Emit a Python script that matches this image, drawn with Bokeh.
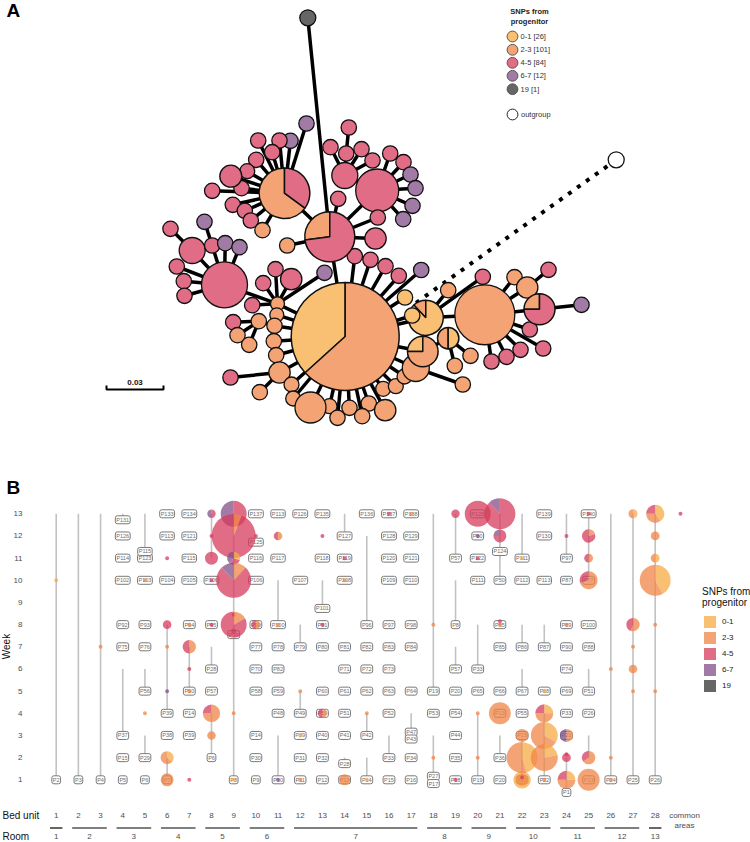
import math
from bokeh.plotting import figure
from bokeh.layouts import column
from bokeh.models import Legend, LegendItem, LinearAxis, FixedTicker, Range1d
from bokeh.core.properties import value
from bokeh.embed import file_html
from bokeh.resources import INLINE

FONT = "Liberation Sans"
series_labels = ["0-1", "2-3", "4-5", "6-7", "19"]
series_counts = [26, 101, 84, 12, 1]
solid = ["#F9C074", "#F4A474", "#E06C85", "#A17BA6", "#666666"]
base = ["#F7AB46", "#F08646", "#D63B5C", "#824F88", "#333333"]

# ---------- panel A: haplotype network ----------
node_x = [344.7, 284, 329.3, 425.3, 422.3, 447.7, 539, 484.3,
          307.3, 306, 290, 279, 257.7, 271.7, 255.7, 246.7, 241, 230.3, 211.7, 232.3, 244.3, 250.3, 262,
          286.7, 337.7, 376.7, 344.3, 330, 345.7, 348.3, 361, 372, 389.7, 403, 410, 415, 412, 402.7, 377.3, 375,
          354.3, 370, 385, 398.3, 420.7,
          277, 275, 290.7, 262.7, 324, 251.7, 224, 191.7, 170, 211.7, 204, 224.7, 239, 176.3, 183.3, 184,
          276.3, 274, 258.3, 232.7, 237, 248.7, 273.3, 275.7, 279, 230, 259.3, 291, 292.7, 329, 310,
          349, 368.3, 337, 361.7, 384.7, 382.7, 395.3, 404, 415.3, 462.3,
          470, 454.3, 447.7, 482.3, 514, 526.7, 548, 581, 529.3, 542.7, 520, 506, 491,
          404.5, 411.7]
node_y = [336, 192.7, 236.3, 317.3, 351, 337.7, 308.7, 314.3,
          17.3, 123, 140.3, 140, 140, 151.7, 159.3, 170.7, 187.7, 175.7, 190.3, 204.3, 210.3, 220, 229.7,
          245, 198.3, 190, 175, 146.7, 153, 127, 148.7, 160, 153, 161.7, 174, 187.7, 205.3, 218.7, 217, 238,
          255.7, 259.3, 265.7, 275.3, 269.5,
          303.3, 268.7, 278.7, 282.7, 272.3, 304.7, 284.3, 250, 228.3, 245, 221.3, 242.7, 246.7, 266, 280.7, 295.3,
          314.3, 325.3, 320.7, 321.7, 334.7, 344.3, 340.7, 354.7, 372, 377, 391.7, 384, 398, 405.7, 407,
          407.3, 403, 417.3, 415.7, 409.7, 388.3, 385.7, 376, 367.5, 384,
          355.3, 365.3, 289.7, 276.3, 276.7, 287, 269.3, 304.3, 329, 348, 349.3, 356.3, 361,
          297, 315]
node_r = [54, 25.3, 25, 17.5, 15.3, 10.7, 15.5, 30,
          8, 7.7, 7.7, 7.7, 7.7, 7.7, 7.7, 7.5, 7.7, 11, 7.7, 7.7, 7.7, 7.7, 7.7,
          7.7, 7.7, 21.5, 13, 7.7, 7.7, 7.7, 7.7, 7.7, 7.7, 7.7, 7.7, 7.7, 7.7, 7.7, 7.7, 10.7,
          7.7, 7.7, 7.7, 7.7, 7.7,
          7, 7.7, 10.7, 7.7, 7.7, 7.7, 23, 13, 7.7, 7.7, 7.7, 7.7, 7.7, 7.7, 7.7, 7.7,
          7, 7.7, 7.7, 7.7, 7.7, 7.7, 7.7, 7.7, 10.7, 7.7, 7.7, 7.5, 7.5, 7.5, 15.5,
          7.7, 7.7, 7.7, 7.7, 10.7, 7.5, 7.5, 7.5, 13.5, 7.7,
          7.7, 7.7, 7.7, 7.7, 7.7, 10.7, 7.7, 7.7, 7.7, 7.7, 7.7, 7.7, 7.7,
          7.7, 7.7]
node_cat = [1, 1, 1, 0, 1, 1, 2, 1,
            4, 3, 3, 2, 2, 2, 2, 2, 2, 2, 2, 2, 2, 2, 1,
            1, 2, 2, 2, 2, 2, 2, 2, 2, 2, 2, 3, 3, 3, 3, 2, 2,
            2, 2, 2, 2, 3,
            1, 2, 2, 2, 3, 2, 2, 2, 2, 2, 3, 3, 3, 2, 2, 2,
            1, 1, 1, 2, 1, 1, 1, 1, 1, 2, 1, 1, 1, 1, 1,
            1, 1, 1, 1, 1, 1, 1, 1, 1, 1,
            1, 1, 1, 2, 1, 1, 2, 3, 2, 2, 2, 2, 2,
            0, 0]
node_parent = [0, 2, 0, 0, 0, 4, 7, 3,
               2, 1, 1, 1, 1, 1, 1, 1, 1, 1, 1, 1, 1, 1, 1,
               2, 2, 2, 25, 26, 26, 28, 26, 26, 25, 25, 25, 25, 25, 25, 2, 2,
               0, 0, 0, 0, 0,
               0, 45, 45, 45, 45, 45, 45, 51, 52, 51, 54, 51, 51, 51, 51, 51,
               0, 0, 62, 63, 63, 63, 0, 0, 0, 69, 69, 0, 0, 0, 0,
               0, 0, 0, 0, 0, 0, 0, 0, 0, 84,
               5, 5, 3, 3, 7, 7, 91, 6, 7, 7, 7, 7, 7,
               0, 0]
pie_count = 7
top_from = 99
pie_first_cat = [0, 1, 1, 1, 0, 1, 1]
pie_first_share = [0.367, 0.65, 0.27, 0.12, 0.25, 0.5, 0.25]
pie_second_cat = [1, 2, 2, 0, 1, 0, 2]
outgroup_x, outgroup_y = 615.7, 159.3
outgroup_end_x, outgroup_end_y = 414, 303.5

pA = figure(width=750, height=470, x_range=Range1d(26, 750), y_range=Range1d(470, 0),
            output_backend="svg", toolbar_location=None, min_border=0, min_border_left=26,
            outline_line_color=None)
pA.axis.visible = False
pA.grid.visible = False

kids = list(range(1, len(node_x)))
pA.segment(x0=[node_x[i] for i in kids], y0=[node_y[i] for i in kids],
           x1=[node_x[node_parent[i]] for i in kids], y1=[node_y[node_parent[i]] for i in kids],
           line_color="black", line_width=3.5)
pA.line(x=[outgroup_x, outgroup_end_x], y=[outgroup_y, outgroup_end_y], line_color="black",
        line_width=4, line_dash="4 7")


def circles(p, idx):
    p.circle(x=[node_x[i] for i in idx], y=[node_y[i] for i in idx], radius=[node_r[i] for i in idx],
             fill_color=[solid[node_cat[i]] for i in idx], line_color="#111111", line_width=1.3)


circles(pA, list(range(pie_count, top_from)))
wx, wy, wr, ws, we, wc = [], [], [], [], [], []
for i in range(pie_count):
    mid = math.pi / 2 + 2 * math.pi * pie_first_share[i]
    wx += [node_x[i]] * 2
    wy += [node_y[i]] * 2
    wr += [node_r[i]] * 2
    ws += [math.pi / 2, mid]
    we += [mid, math.pi / 2 + 2 * math.pi]
    wc += [solid[pie_first_cat[i]], solid[pie_second_cat[i]]]
pA.wedge(x=wx, y=wy, radius=wr, start_angle=ws, end_angle=we, fill_color=wc,
         line_color="#111111", line_width=1.5)
circles(pA, list(range(top_from, len(node_x))))
pA.circle(x=[outgroup_x], y=[outgroup_y], radius=8, fill_color="white", line_color="#111111", line_width=1.3)

# scale bar
scale_x = [106, 106, 163, 163]
scale_y = [385, 389, 389, 385]
pA.line(x=scale_x, y=scale_y, line_color="black", line_width=2)
pA.text(x=[134.5], y=[382], text=["0.03"], text_font=value(FONT), text_font_style="bold",
        text_font_size="8px", text_align="center", text_baseline="middle", text_color="#111111")
pA.text(x=[6], y=[10], text=["A"], text_font=value(FONT), text_font_style="bold", text_font_size="19px",
        text_align="left", text_baseline="middle", text_color="black", level="overlay")

# legend of panel A
leg_y = [36, 49.3, 62.3, 75.3, 88.7]
leg_texts = [f"{s} [{c}]" for s, c in zip(series_labels, series_counts)]
pA.circle(x=[512] * 5, y=leg_y, radius=5.4, fill_color=solid, line_color="#555555", line_width=1)
pA.text(x=[520] * 5, y=leg_y, text=leg_texts, text_font=value(FONT), text_font_size="7.5px",
        text_baseline="middle", text_color="#333333")
pA.circle(x=[512], y=[114], radius=5.4, fill_color="white", line_color="#222222", line_width=1)
pA.text(x=[520.5], y=[113.5], text=["outgroup"], text_font=value(FONT), text_font_size="7.5px",
        text_baseline="middle", text_color="#333333")
pA.text(x=[529, 529], y=[11, 20.5], text=["SNPs from", "progenitor"], text_font=value(FONT),
        text_font_style="bold", text_font_size="7.5px", text_align="center", text_baseline="middle",
        text_color="#222222")

# ---------- panel B: patients over time ----------
bed_ticks = list(range(1, 29))
week_ticks = list(range(1, 14))
room_centers = [1, 2.5, 4.5, 6.5, 8.5, 10.5, 14.5, 18.5, 20.5, 22.5, 24.5, 26.5, 28]
room_names = [str(i) for i in range(1, 14)]
room_first = [1, 2, 4, 6, 8, 10, 12, 18, 20, 22, 24, 26, 28]
room_last = [1, 3, 5, 7, 9, 11, 17, 19, 21, 23, 25, 27, 28]

line_bed = [1, 2, 3, 4, 4, 5, 5, 5, 6, 6, 7, 8, 8, 8, 9, 11, 11, 12, 12, 13, 14, 14, 15, 15, 15, 16, 17,
            18, 18, 19, 19, 19, 20, 20, 21, 21, 21, 22, 22, 22, 22, 23, 23, 24, 24, 25, 25, 25, 26, 27, 28]
line_from = [1, 1, 1, 3, 12.73, 11.3, 5, 2, 1, 4, 5, 11, 6, 2, 1, 8, 1, 7, 4, 8.73, 12, 1.73, 8, 3, 1, 2, 3.15,
             5, 1, 11, 8, 6, 6, 1, 2, 10, 11, 11, 7, 5, 1, 7, 1, 11, 0.43, 10, 5, 2, 1, 1, 1]
line_to = [13, 13, 13, 6, 13, 13, 6, 3, 2, 8, 7, 13, 7, 4, 13, 10, 3, 8, 5, 10, 13, 2, 12, 4, 2, 3, 4,
           13, 3, 13, 10, 7, 8, 4, 3, 11.3, 13, 13, 8, 6, 3, 8, 4, 13, 2, 13, 6, 3, 13, 13, 13]

label_bed = [4, 6, 7, 10, 11, 12, 13, 15, 16, 17, 20, 23, 25,
             4, 6, 7, 10, 14, 16, 17, 20, 23,
             4, 5, 5, 7, 10, 11, 13, 14, 16, 17, 19, 20, 21, 22, 24,
             4, 5, 6, 7, 8, 10, 12, 14, 16, 17, 20, 21, 22, 23, 24, 25,
             13,
             4, 5, 7, 8, 9, 10, 11, 13, 15, 16, 17, 19, 21, 24, 25,
             4, 5, 10, 11, 12, 13, 14, 15, 16, 17, 21, 22, 23, 24, 25,
             8, 10, 11, 14, 15, 16, 19, 20, 24,
             5, 7, 8, 10, 11, 13, 14, 15, 16, 17, 18, 19, 20, 21, 22, 23, 24, 25,
             6, 7, 11, 12, 13, 14, 16, 18, 19, 21, 22, 24, 25,
             4, 6, 7, 10, 12, 13, 14, 15, 17, 17, 19, 22, 24,
             4, 5, 8, 10, 12, 13, 14, 16, 17, 19, 21,
             1, 2, 3, 4, 5, 6, 9, 10, 11, 12, 13, 14, 15, 16, 17, 18, 18, 19, 20, 21, 22, 23, 24, 25, 26, 27, 28]
label_week = [12.73, 13, 13, 13, 13, 13, 13, 13, 13, 13, 13, 13, 13,
              12, 12, 12, 11.72, 12, 12, 12, 12, 12,
              11, 11, 11.3, 11, 11, 11, 11, 11, 11, 11, 11, 11, 11.3, 11, 11,
              10, 10, 10, 10, 10, 10, 10, 10, 10, 10, 10, 10, 10, 10, 10, 10,
              8.73,
              8, 8, 8, 8, 7.55, 8, 8, 8, 8, 8, 8, 8, 8, 8, 8,
              7, 7, 7, 7, 7, 7, 7, 7, 7, 7, 7, 7, 7, 7, 7,
              6, 6, 6, 6, 6, 6, 6, 6, 6,
              5, 5, 5, 5, 5, 5, 5, 5, 5, 5, 5, 5, 5, 5, 5, 5, 5, 5,
              4, 4, 4, 4, 4, 4, 4, 4, 4, 4, 4, 4, 4,
              3, 3, 3, 3, 3, 3, 3, 3, 3.15, 2.84, 3, 3, 3,
              2, 2, 2, 2, 2, 2, 1.73, 2, 2, 2, 2,
              1, 1, 1, 1, 1, 1, 1, 1, 1, 1, 1, 1, 1, 1, 1, 1.16, 0.83, 1, 1, 1, 1, 1, 0.43, 1, 1, 1, 1]
label_text = ["P131", "P133", "P134", "P137", "P113", "P126", "P135", "P136", "P137", "P138", "P128", "P139", "P140",
              "P126", "P113", "P121", "P125", "P127", "P128", "P129", "P60", "P130",
              "P114", "P123", "P115", "P115", "P116", "P117", "P118", "P119", "P120", "P121", "P57", "P122", "P124", "P111", "P97",
              "P102", "P103", "P104", "P105", "P106", "P106", "P107", "P108", "P109", "P110", "P111", "P50", "P112", "P113", "P87", "P77",
              "P101",
              "P92", "P93", "P94", "P95", "P99", "P99", "P100", "P91", "P96", "P97", "P98", "P8", "P85", "P89", "P100",
              "P75", "P76", "P77", "P78", "P79", "P80", "P81", "P82", "P83", "P84", "P85", "P86", "P87", "P90", "P88",
              "P28", "P70", "P82", "P71", "P72", "P73", "P57", "P33", "P74",
              "P56", "P50", "P57", "P58", "P59", "P60", "P61", "P62", "P63", "P64", "P19", "P20", "P65", "P66", "P67", "P68", "P69", "P51",
              "P39", "P14", "P48", "P49", "P50", "P51", "P52", "P53", "P54", "P13", "P55", "P33", "P26",
              "P37", "P38", "P39", "P14", "P39", "P40", "P41", "P42", "P47", "P43", "P44", "P15", "P21",
              "P15", "P29", "P6", "P30", "P31", "P32", "P28", "P33", "P34", "P35", "P36",
              "P2", "P3", "P4", "P5", "P6", "P7", "P8", "P9", "P10", "P11", "P12", "P13", "P14", "P15", "P16", "P27", "P17",
              "P18", "P19", "P20", "P21", "P22", "P1", "P23", "P24", "P25", "P26"]

dot_bed = [1, 3, 5, 6, 6, 6, 7, 7, 6, 8, 8, 7, 8, 8, 9, 9, 10, 9, 8, 6, 7, 5, 9, 13, 14, 14, 16, 17, 18, 19, 20, 20,
           20, 11, 13, 12, 12, 11, 12, 14, 15, 15, 18, 19, 20, 20, 21, 21, 21, 25, 24, 22, 24, 28, 27, 27, 26, 27,
           28, 28, 29.14, 26, 26, 23, 23, 22, 25, 24, 24, 22, 22, 22]
dot_week = [10, 7, 10, 11, 8, 7, 6, 5, 5, 10, 8, 8, 12, 11, 8.45, 7.7, 12, 4, 3, 1, 1, 4, 1, 12, 11, 10, 13, 13, 8,
            13, 13, 12, 11, 8, 8, 5, 3, 1, 1, 1, 1, 4, 2, 1, 4, 2, 4, 8.15, 8, 13, 12, 11, 8, 12, 7, 6, 6, 5, 5, 8,
            13, 2, 1, 1, 5, 3, 1, 2, 2.15, 1, 1, 1.1]
dot_size = [2, 2, 2, 2, 4.3, 2, 2, 2, 2, 2, 2, 2, 2, 6.5, 2, 2.5, 2, 2, 4.3, 6.5, 2, 2, 2, 2, 2, 2, 2, 2, 2, 4.2,
            13, 2, 2, 2, 2, 2, 2, 2, 2, 5.5, 2, 2, 2, 2, 2, 2, 11, 2, 2, 2, 2, 2, 2, 4.4, 2, 4.3, 2, 2, 2, 2, 2,
            2, 2, 2, 2, 6.5, 11, 4.4, 2, 8.7, 6, 2]
dot_cat = [0, 1, 1, 2, 2, 1, 2, 1, 3, 2, 2, 1, 2, 2, 2, 2, 2, 1, 1, 1, 2, 1, 0, 2, 2, 1, 2, 1, 1, 2, 2, 3, 2, 1, 2,
           1, 0, 3, 1, 1, 0, 1, 1, 2, 1, 1, 1, 2, 1, 2, 2, 0, 1, 1, 1, 1, 1, 1, 1, 1, 2, 1, 1, 1, 0, 1, 1, 2, 2, 0,
           1, 2]

mix_bed = [7, 8, 9, 9, 9, 9, 9, 8, 6, 10, 11, 13, 21, 21, 25, 25, 25, 27, 28, 28, 28, 27, 22, 23, 23, 23, 24, 24, 25]
mix_week = [7, 13, 13, 12, 11, 10, 8, 4, 2, 8, 12, 4, 13, 12, 12, 11, 10, 13, 13, 11, 10, 8, 2, 4, 3, 2, 3, 1, 2]
mix_size = [6.7, 4.2, 13, 22, 6.5, 17.5, 13, 8.7, 6.5, 4.5, 4.3, 4.5, 15.5, 6.5, 6.7, 4.4, 9, 4.5, 9, 4.4, 15.5,
            6.7, 15.5, 9, 13.5, 13.5, 6.5, 9, 6.7]
mix_share0 = [0, 0, 0, 0, .3, 0, 0, 0, .35, 0, 0, 0, 0, 0, 0, 0, 0, .5, .4, .5, .42, 0, .45, .25, .33, .22, 0, .25, 0]
mix_share1 = [.5, 0, 0, .06, 0, .12, .17, .75, .65, .5, .5, .5, 0, 0, .2, .5, .7, .5, .35, .5, .58, .55, .55, .5,
              .67, .78, .5, .5, .65]
mix_share2 = [.5, .5, .5, .94, .3, .76, .83, .25, 0, .5, .5, .5, .88, .75, .8, .5, .3, 0, .25, 0, 0, .45, 0, .25,
              0, 0, 0, .25, .35]
mix_share3 = [0, .5, .5, 0, .4, .12, 0, 0, 0, 0, 0, 0, .12, .25, 0, 0, 0, 0, 0, 0, 0, 0, 0, 0, 0, 0, .5, 0, 0]

BED_PX, WEEK_PX = 22.185, 22.17
pB = figure(width=750, height=372, x_range=Range1d(1 + (26 - 55.7) / BED_PX, 1 + (750 - 55.7) / BED_PX),
            y_range=Range1d(1 - (806 - 779.3) / WEEK_PX, 13 + (513.3 - 470) / WEEK_PX),
            output_backend="svg", toolbar_location=None, outline_line_color=None,
            min_border_left=26, min_border_right=0, min_border_top=0, min_border_bottom=36, x_axis_location=None, y_axis_location=None)
pB.grid.visible = False

axis_style = dict(axis_line_color=None, major_tick_line_color=None, minor_tick_line_color=None,
                  major_tick_out=0, major_tick_in=0, minor_tick_out=0, minor_tick_in=0,
                  major_label_text_font=FONT, major_label_text_font_size="8px", major_label_text_color="#4d4d4d")
yax = LinearAxis(ticker=FixedTicker(ticks=week_ticks), major_label_standoff=4, **axis_style)
pB.add_layout(yax, "left")
xax = LinearAxis(ticker=FixedTicker(ticks=bed_ticks), major_label_standoff=6, **axis_style)
pB.add_layout(xax, "below")
rax = LinearAxis(ticker=FixedTicker(ticks=room_centers), major_label_standoff=13,
                 major_label_overrides={c: n for c, n in zip(room_centers, room_names)}, **axis_style)
pB.add_layout(rax, "below")

pB.segment(x0=line_bed, y0=line_from, x1=line_bed, y1=line_to, line_color="#c2c2c2", line_width=1.6)
pB.text(x=label_bed, y=label_week, text=label_text, text_font=value(FONT), text_font_size="5.5px",
        text_align="center", text_baseline="middle", text_color="#6e6e6e",
        border_line_color="#7a7a7a", border_line_width=1, background_fill_color="white",
        padding=1, border_radius=2)

# pies: bed, week, radius and start / end of each slice
sx, sy, sr, ss, se, sc = [], [], [], [], [], []
for b, w, r, c in zip(dot_bed, dot_week, dot_size, dot_cat):
    sx.append(b); sy.append(w); sr.append(r); ss.append(0); se.append(2 * math.pi); sc.append(base[c])
for row in zip(mix_bed, mix_week, mix_size, mix_share0, mix_share1, mix_share2, mix_share3):
    cum = 0.0
    for c, share in enumerate(row[3:]):
        if share > 0:
            a1 = math.pi / 2 - 2 * math.pi * (cum + share)
            a0 = math.pi / 2 - 2 * math.pi * cum
            sx.append(row[0]); sy.append(row[1]); sr.append(row[2]); ss.append(a1); se.append(a0); sc.append(base[c])
            cum += share
pB.wedge(x=sx, y=sy, radius=sr, radius_units="screen", start_angle=ss, end_angle=se,
         fill_color=sc, fill_alpha=0.75, line_color=None)

# bed-unit / room decorations in the margin
room_y = 1 - (827.5 - 779.3) / WEEK_PX
pB.segment(x0=[b - 0.28 for b in room_first], y0=[room_y] * 13, x1=[b + 0.28 for b in room_last], y1=[room_y] * 13,
           line_color="black", line_width=1.2, level="overlay")


def px_x(px):
    return 1 + (px - 55.7) / BED_PX


def px_y(py):
    return 1 - (py - 779.3) / WEEK_PX


for txt, x, y, size, color, style, align, ang in [
    ("B", 6, 487, "19px", "black", "bold", "left", 0),
    ("Bed unit", 2, 815, "10px", "#111111", "normal", "left", 0),
    ("Room", 2, 836.5, "10px", "#111111", "normal", "left", 0),
    ("common", 684, 815, "8px", "#4d4d4d", "normal", "center", 0),
    ("areas", 684, 825, "8px", "#4d4d4d", "normal", "center", 0),
    ("Week", 5.5, 646, "10px", "#111111", "normal", "center", math.pi / 2),
]:
    pB.text(x=[px_x(x)], y=[px_y(y)], text=[txt], text_font=value(FONT), text_font_size=size, text_color=color,
            text_font_style=style, text_align=align, text_baseline="middle", angle=ang, level="overlay")

# legend of panel B
dummies = [pB.rect(x=[float("nan")], y=[float("nan")], width=1, height=1, fill_color=base[i], fill_alpha=0.75,
                   line_color=None) for i in range(5)]
legend = Legend(items=[LegendItem(label=series_labels[i], renderers=[dummies[i]]) for i in range(5)],
                location=(676, 113), orientation="vertical", glyph_width=15, glyph_height=15, spacing=1,
                label_height=15, label_width=20, label_standoff=5, margin=0, padding=0, border_line_color=None,
                background_fill_color=None, label_text_font=FONT, label_text_font_size="8px",
                label_text_color="#222222", title="SNPs from\nprogenitor", title_text_font=FONT,
                title_text_font_size="10px", title_text_font_style="normal", title_text_color="#111111",
                title_standoff=6)
pB.add_layout(legend, "center")

root = column(pA, pB, spacing=0, styles={"position": "absolute", "left": "0px", "top": "0px"})
open("out.html", "w").write(file_html(root, INLINE))
